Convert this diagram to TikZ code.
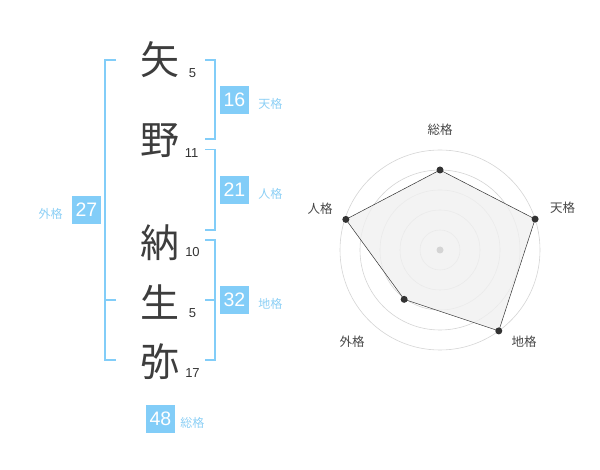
\documentclass[tikz,border=0pt]{standalone}
\usepackage{fontspec}
\setmainfont{Liberation Sans}
\newfontfamily\jpfont{Noto Sans CJK JP}
\usepackage{tikz}
\usetikzlibrary{positioning,calc}

\definecolor{kakublue}{HTML}{82CDF8}
\definecolor{kakutext}{HTML}{8CCFF5}
\definecolor{ringgray}{HTML}{D4D4D4}
\definecolor{inkgray}{HTML}{333333}

\tikzset{
  kanji/.style={font=\jpfont\fontsize{39}{39}\selectfont, text=inkgray!95, inner sep=0pt},
  stroke/.style={font=\fontsize{13}{13}\selectfont, text=inkgray, inner sep=0pt},
  kakubox/.style={fill=kakublue, text=white, minimum width=29pt, minimum height=28.5pt,
    inner sep=0pt, font=\fontsize{19.5}{19.5}\selectfont},
  kakulabel/.style={text=kakutext, font=\jpfont\fontsize{12}{12}\selectfont, inner sep=0pt},
  bracket/.style={draw=kakublue, line width=1.6pt},
  ring/.style={draw=ringgray, line width=0.6pt},
  axislabel/.style={text=inkgray!90, font=\jpfont\fontsize{12.5}{12.5}\selectfont, inner sep=0pt},
  dot/.style={circle, fill=inkgray, inner sep=0pt, minimum size=7pt}
}

\begin{document}
\begin{tikzpicture}[x=1pt, y=-1pt]
  \useasboundingbox (0,0) rectangle (600,470);

  % name characters
  \node[kanji] (c1) at (160,60) {矢};
  \node[kanji] (c2) at (160,141) {野};
  \node[kanji] (c3) at (160,243) {納};
  \node[kanji] (c4) at (160,302) {生};
  \node[kanji] (c5) at (160,362) {弥};

  % stroke counts
  \node[stroke] (s1) at (192.5,73) {5};
  \node[stroke] (s2) at (191.5,153) {11};
  \node[stroke] (s3) at (192.5,252.5) {10};
  \node[stroke] (s4) at (192.5,313) {5};
  \node[stroke] (s5) at (192.5,373) {17};

  % brackets
  \coordinate (gt) at (116,60);
  \coordinate (gm) at (116,300);
  \coordinate (gb) at (116,360);
  \draw[bracket] (gt) -- ++(-11,0) |- (gb);
  \draw[bracket] (gm) -- ++(-11,0);

  \coordinate (tt) at (205,60);
  \coordinate (tb) at (205,139);
  \draw[bracket] (tt) -- ++(10,0) |- (tb);

  \coordinate (jt) at (205,149.5);
  \coordinate (jb) at (205,230);
  \draw[bracket] (jt) -- ++(10,0) |- (jb);

  \coordinate (ct) at (205,240);
  \coordinate (cm) at (205,300);
  \coordinate (cb) at (205,360);
  \draw[bracket] (ct) -- ++(10,0) |- (cb);
  \draw[bracket] (cm) -- ++(10,0);

  % fortune boxes
  \node[kakubox] (ten) at (234.5,100) {16};
  \node[kakulabel, right=9pt of ten, yshift=-3.5pt] (tenl) {天格};
  \node[kakubox] (jin) at (234.5,190) {21};
  \node[kakulabel, right=9pt of jin, yshift=-3.5pt] (jinl) {人格};
  \node[kakubox] (chi) at (234.5,300) {32};
  \node[kakulabel, right=9pt of chi, yshift=-3.5pt] (chil) {地格};
  \node[kakubox] (gai) at (86.5,210) {27};
  \node[kakulabel, left=9pt of gai, yshift=-3.5pt] (gail) {外格};
  \node[kakubox] (sou) at (160.5,419) {48};
  \node[kakulabel, right=5pt of sou, yshift=-3.5pt] (soul) {総格};

  % radar chart
  \coordinate (o) at (440,250);
  \foreach \r in {20,40,...,100}
    \draw[ring] (o) circle[radius=\r];
  \coordinate (psou) at ($(o)+(90:-80)$);
  \coordinate (pten) at ($(o)+(-18:100)$);
  \coordinate (pchi) at ($(o)+(54:100)$);
  \coordinate (pgai) at ($(o)+(126:61)$);
  \coordinate (pjin) at ($(o)+(-162:99)$);
  \filldraw[fill=black!6, fill opacity=0.8, draw=inkgray, line width=0.5pt]
    (psou) -- (pten) -- (pchi) -- (pgai) -- (pjin) -- cycle;
  \foreach \p in {psou,pten,pchi,pgai,pjin}
    \node[dot] (d-\p) at (\p) {};
  \node[circle, fill=ringgray, inner sep=0pt, minimum size=7pt] (oc) at (o) {};

  % axis labels
  \node[axislabel] (lsou) at (440,130) {総格};
  \node[axislabel] (lten) at (562.5,208) {天格};
  \node[axislabel] (lchi) at (524,342) {地格};
  \node[axislabel] (lgai) at (352,342) {外格};
  \node[axislabel] (ljin) at (320,209) {人格};
\end{tikzpicture}
\end{document}
